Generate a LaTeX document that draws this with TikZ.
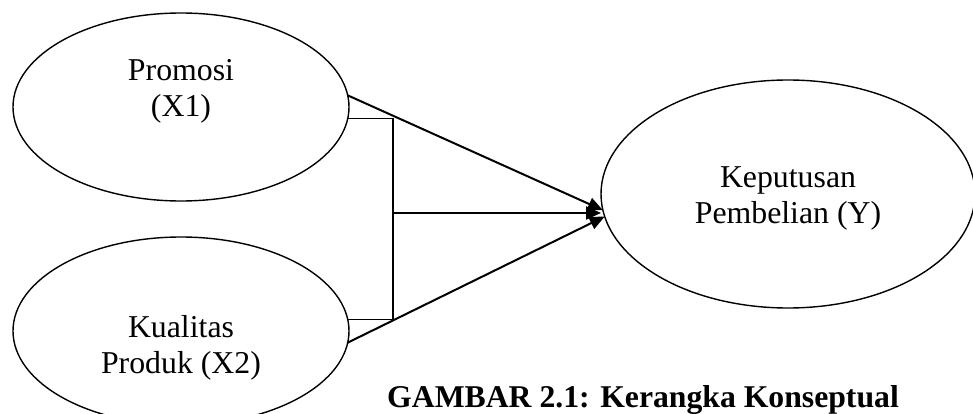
\documentclass[tikz,border=0pt]{standalone}
\usepackage{fontspec}
\setmainfont{Liberation Serif}
\usetikzlibrary{arrows.meta,shapes.geometric}

\begin{document}
\begin{tikzpicture}[x=1pt,y=-1pt,font=\fontsize{31.8}{36}\selectfont,
  var/.style={shape=ellipse,draw,line width=1.4pt,inner sep=0pt,outer sep=0pt,minimum width=336pt,minimum height=188pt},
  txt/.style={align=center,inner sep=0pt},
  arr/.style={line width=2pt,-{Triangle[length=15pt,width=13pt]}}]
\useasboundingbox (0,0) rectangle (973,414);
\node(pro)[var,label={[txt,yshift=15.5pt]center:Promosi\\(X1)}] at (181,107){};
\node(kp)[var,label={[txt,yshift=-16.5pt]center:Kualitas\\Produk (X2)}] at (181,331){};
\node(kpb)[var,minimum width=374pt,minimum height=228pt,label={[txt,yshift=-4pt]center:Keputusan\\Pembelian (Y)}] at (788,194){};
\coordinate(jm) at (393,213);
\draw[line width=1.3pt] (pro.-4.5) -| (jm) |- (kp.4);
\draw[arr] (pro.4.5)--(kpb.185);
\draw[arr] (jm)--(jm -| kpb.west);
\draw[arr] (kp.-4)--(kpb.187.5);
\node(cap)[anchor=base west,inner sep=0pt,font=\fontsize{31.7}{36}\selectfont\bfseries] at (387,407){GAMBAR 2.1: Kerangka Konseptual};
\end{tikzpicture}
\end{document}
